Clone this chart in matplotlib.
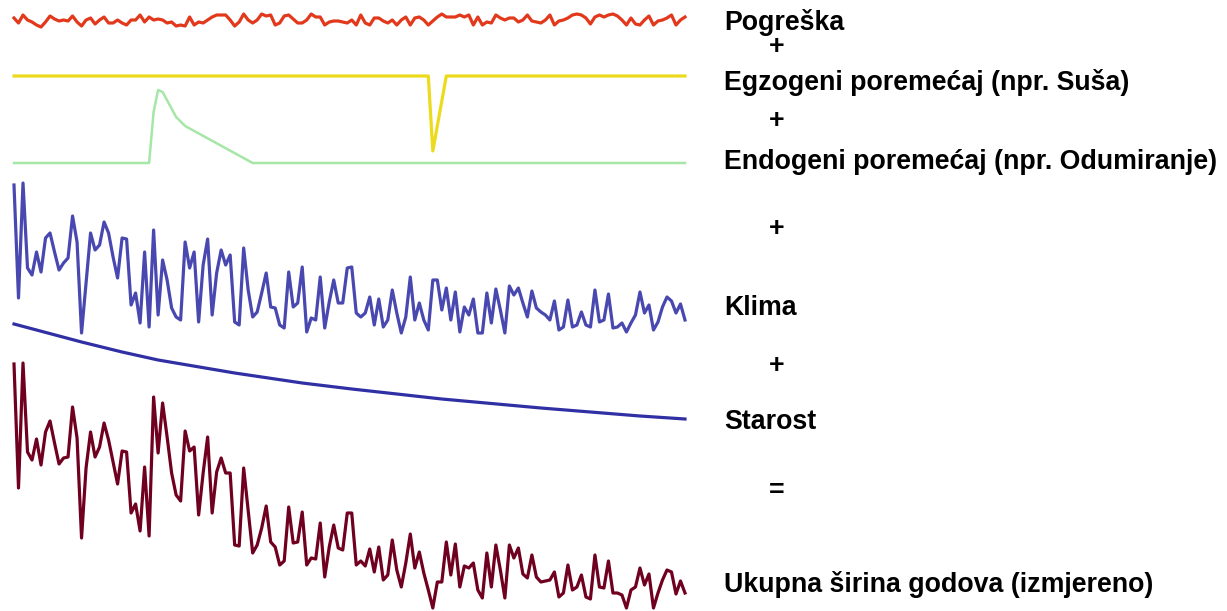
import matplotlib
matplotlib.use('Agg')
import matplotlib.pyplot as plt
import numpy as np

plt.rcParams['font.family'] = ['Liberation Sans', 'DejaVu Sans']

# godine (indeks)
years = np.arange(150)

# pogreska (sum)
noise = [3, -2, 6, 1, -1, -4, -6, -1, 5, 2, 0, 1, 0, 5, -1, -5, 1, 3, -3, 1,
         4, -2, -2, 1, -2, -4, 1, 1, 6, -1, 4, 1, 2, 1, -2, -1, -5, -4, -5, 4,
         -4, -1, -2, 1, 4, 6, 6, 6, 1, -5, -1, 7, 1, -2, 1, 7, 5, 6, -4, -2,
         5, 6, 2, -2, -2, 1, 7, 4, 4, -4, -1, 0, 0, -1,
         -2, 1, -4, 6, -2, -4, 3, 3, 0, -2, 1, -4, 1, 4, -4, 3, 4, 1, -4, 0,
         4, 7, 4, 4, 4, 6, 4, 6, -4, 4, -4, -1, -2, 6, 3, 1, 3, 3, -1, 1,
         6, 0, -1, -2, 1, 6, -4, 0, 1, 3, 6, 7, 6, 3, -3, 4, 6, 4, 6, 7,
         5, 1, -4, 3, -3, -4, 1, 5, -4, 0, 1, 3, 6, -4, 1, 4]

# egzogeni poremecaj (susa) - tocke loma
drought_idx = [0, 92, 93, 96, 149]
drought_val = [0, 0, -75, 0, 0]

# endogeni poremecaj (odumiranje) - tocke loma
dieback_idx = [0, 30, 31, 32, 33, 36, 38, 53, 149]
dieback_val = [0, 0, 51, 73, 71, 46, 37, 0, 0]

# klima
climate = [160, 47, 162, 77, 70, 93, 73, 107, 112, 93, 75, 82, 87, 129, 103, 12, 62, 112, 95, 100,
           123, 112, 88, 67, 107, 106, 40, 52, 22, 93, 18, 115, 30, 85, 65, 37, 28, 25, 103, 77,
           93, 23, 80, 106, 30, 72, 95, 80, 90, 23, 20, 97, 55, 28, 33, 52, 72, 38, 37, 20,
           17, 73, 38, 42, 78, 13, 27, 25, 68, 17, 43, 65, 42, 42, 77, 78, 32, 28, 32, 48,
           20, 46, 18, 25, 55, 32, 12, 28, 68, 25, 42, 25, 15, 65, 65, 35, 57, 25, 53, 13,
           38, 30, 46, 12, 12, 52, 22, 56, 35, 12, 59, 50, 57, 42, 28, 54, 37, 33, 30, 25,
           44, 15, 18, 45, 18, 20, 33, 20, 18, 55, 23, 25, 51, 17, 18, 22, 13, 22, 30, 53,
           32, 40, 15, 23, 38, 48, 44, 32, 41, 25]

# starost (dobni trend)
age_idx = [0, 5, 15, 24, 32, 49, 64, 75, 95, 117, 139, 149]
age_val = [116, 110, 98, 88, 80, 67, 57, 51, 41, 32, 24, 21]

# ukupna sirina godova
total = [256, 132, 257, 168, 160, 181, 155, 188, 199, 177, 156, 162, 163, 213, 182, 82, 152, 188, 163, 173,
         197, 180, 158, 136, 169, 168, 107, 116, 89, 153, 84, 223, 167, 217, 183, 147, 125, 119, 189, 169,
         173, 105, 147, 183, 107, 148, 162, 147, 147, 75, 74, 152, 110, 67, 75, 92, 114, 78, 73, 55,
         59, 113, 77, 78, 108, 55, 62, 61, 97, 43, 73, 95, 72, 70, 107, 107, 55, 59, 54, 71,
         48, 73, 40, 45, 80, 50, 33, 57, 86, 52, 68, 47, 30, 12, 38, 38, 78, 45, 76, 33,
         54, 52, 57, 30, 22, 67, 33, 75, 50, 22, 75, 62, 72, 46, 42, 65, 43, 38, 39, 40,
         48, 23, 27, 55, 30, 33, 45, 23, 21, 65, 33, 32, 59, 27, 27, 25, 12, 30, 33, 52,
         35, 46, 12, 27, 40, 50, 48, 26, 39, 27]

labels = ['Pogreška', 'Egzogeni poremećaj (npr. Suša)', 'Endogeni poremećaj (npr. Odumiranje)',
          'Klima', 'Starost', 'Ukupna širina godova (izmjereno)']
label_y = [22, 82, 162, 308, 422, 584]
ops = ['+', '+', '+', '+', '=']
ops_y = [47, 121, 229, 366, 491]

W, H = 1227, 611
fig = plt.figure(figsize=(W / 100, H / 100), dpi=100)
fig.patch.set_facecolor('white')


def band(top, bottom, ylim):
    x0, x1 = 14, 685
    ax = fig.add_axes([x0 / W, 1 - bottom / H, (x1 - x0) / W, (bottom - top) / H])
    ax.set_xlim(0, 149)
    ax.set_ylim(*ylim)
    ax.axis('off')
    ax.patch.set_alpha(0)
    return ax


ax = band(1, 41, (-20, 20))
ax.plot(years, noise, color='#e2391d', lw=2.3, clip_on=False)

ax = band(60, 160, (-84, 16))
ax.plot(drought_idx, drought_val, color='#ecdb1c', lw=2.3, clip_on=False)

ax = band(80, 170, (-7, 83))
ax.plot(dieback_idx, dieback_val, color='#a6e6a6', lw=1.8, clip_on=False)

ax = band(175, 350, (-5, 170))
ax.plot(years, climate, color='#4848b0', lw=2.3, clip_on=False)

ax = band(310, 440, (0, 130))
ax.plot(age_idx, age_val, color='#3030a4', lw=2.3, clip_on=False)

ax = band(355, 625, (-5, 265))
ax.plot(years, total, color='#700020', lw=2.3, clip_on=False)

for lab, y in zip(labels, label_y):
    fig.text(724 / W, 1 - y / H, lab, fontsize=19.3, fontweight='bold', va='center', ha='left')
for op, y in zip(ops, ops_y):
    fig.text(777 / W, 1 - y / H, op, fontsize=19.3, fontweight='bold', va='center', ha='center')

fig.savefig('out.png', dpi=100, facecolor='white')
